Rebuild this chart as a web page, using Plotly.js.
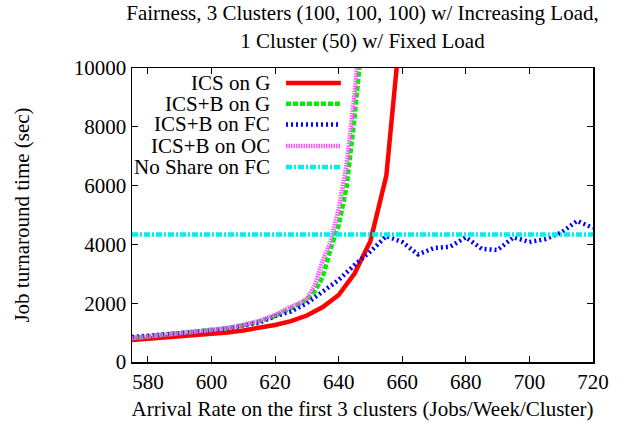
<!DOCTYPE html>
<html>
<head>
<meta charset="utf-8">
<script src="https://cdn.plot.ly/plotly-3.0.1.min.js"></script>
<style>html,body{margin:0;padding:0;background:#fff;}#chart{width:624px;height:427px;}</style>
</head>
<body>
<div id="chart"></div>
<script>
// ---- data ----
const icsGX = [575, 580, 585, 590, 595, 600, 605, 610, 615, 620, 625, 630, 635, 640, 645, 650, 655, 660];
const icsGY = [750, 790, 830, 870, 910, 955, 1005, 1075, 1160, 1260, 1390, 1580, 1870, 2280, 3010, 4120, 6340, 12000];

const icsbGX = [575, 580, 585, 590, 595, 600, 605, 610, 615, 620, 625, 627.5, 630, 632.5, 635, 637.5, 640, 642.5, 645, 647.5, 650];
const icsbGY = [820, 870, 920, 970, 1020, 1080, 1150, 1250, 1380, 1560, 1800, 1960, 2120, 2400, 2900, 3850, 4650, 5950, 8300, 10800, 14000];

const icsbFCX = [575, 580, 585, 590, 595, 600, 605, 610, 615, 620, 625, 630, 635, 640, 645, 650, 655, 660, 665, 670, 675, 680, 685, 690, 695, 700, 705, 710, 715, 720];
const icsbFCY = [850, 890, 930, 970, 1020, 1070, 1140, 1230, 1340, 1560, 1720, 2000, 2380, 2790, 3300, 3760, 4280, 4080, 3660, 3880, 3920, 4240, 3850, 3810, 4240, 4080, 4180, 4400, 4800, 4560];

const icsbOCX = [575, 580, 585, 590, 595, 600, 605, 610, 615, 620, 625, 627.5, 630, 632.5, 635, 637.5, 640, 642.5, 645, 647.5, 650];
const icsbOCY = [810, 860, 915, 970, 1030, 1090, 1160, 1260, 1400, 1600, 1880, 1990, 2150, 2600, 3450, 4100, 5200, 6700, 9100, 11800, 15000];

const noShareX = [575, 720];
const noShareY = [4340, 4340];

const seriesNames = ["ICS on G", "ICS+B on G", "ICS+B on FC", "ICS+B on OC", "No Share on FC"];
const xTicks = [580, 600, 620, 640, 660, 680, 700, 720];
const yTicks = [0, 2000, 4000, 6000, 8000, 10000];

// ---- styles ----
const styles = [
  {color: '#ff0000', width: 4.5, dash: 'solid'},
  {color: '#00ee00', width: 4.5, dash: '5px,2px'},
  {color: '#0000ff', width: 4.5, dash: '2px,3px'},
  {color: '#ff55ff', width: 4.5, dash: '1.5px,1px'},
  {color: '#00f0f0', width: 4.5, dash: '6px,2px,2px,2px'}
];

const xs = [icsGX, icsbGX, icsbFCX, icsbOCX, noShareX];
const ys = [icsGY, icsbGY, icsbFCY, icsbOCY, noShareY];

const FONT = 'Liberation Serif, Times New Roman, serif';
const traces = [];
for (let i = 0; i < xs.length; i++) {
  traces.push({
    x: xs[i], y: ys[i], type: 'scatter', mode: 'lines', name: seriesNames[i],
    line: {color: styles[i].color, width: styles[i].width, dash: styles[i].dash},
    showlegend: false, hoverinfo: 'skip'
  });
}

// legend keys on an overlay axis (0..1)
const legendRows = [0.949, 0.878, 0.808, 0.735, 0.663];
const annotations = [];
for (let i = 0; i < seriesNames.length; i++) {
  traces.push({
    x: [0.334, 0.453], y: [legendRows[i], legendRows[i]], xaxis: 'x2', yaxis: 'y2',
    type: 'scatter', mode: 'lines', showlegend: false, hoverinfo: 'skip',
    line: {color: styles[i].color, width: styles[i].width, dash: styles[i].dash}
  });
  annotations.push({
    text: seriesNames[i], xref: 'paper', yref: 'paper', x: 0.302, y: legendRows[i],
    xanchor: 'right', yanchor: 'middle', showarrow: false, height: 18, borderpad: 0,
    font: {family: FONT, size: 21, color: '#000'}
  });
}

const axisCommon = {
  showgrid: false, zeroline: false, showline: true, linecolor: '#000', linewidth: 1.5,
  mirror: 'allticks', ticks: 'inside', ticklen: 6, tickwidth: 1, tickcolor: '#000',
  tickfont: {family: FONT, size: 21, color: '#000'}
};

const layout = {
  width: 624, height: 427,
  margin: {l: 132, r: 31, t: 68, b: 65},
  paper_bgcolor: '#fff', plot_bgcolor: '#fff',
  title: {
    text: 'Fairness, 3 Clusters (100, 100, 100) w/ Increasing Load,<br>1 Cluster (50) w/ Fixed Load',
    x: 0.5, xref: 'paper', xanchor: 'center', y: 0.952, yref: 'container', yanchor: 'bottom',
    font: {family: FONT, size: 21, color: '#000'}
  },
  xaxis: Object.assign({}, axisCommon, {
    range: [575, 720], tickvals: xTicks, ticktext: xTicks.map(String),
    title: {text: 'Arrival Rate on the first 3 clusters (Jobs/Week/Cluster)', standoff: 8,
            font: {family: FONT, size: 21, color: '#000'}}
  }),
  yaxis: Object.assign({}, axisCommon, {
    range: [0, 10000], tickvals: yTicks, ticktext: yTicks.map(String),
    title: {text: 'Job turnaround time (sec)', standoff: 38,
            font: {family: FONT, size: 21, color: '#000'}}
  }),
  xaxis2: {overlaying: 'x', anchor: 'y2', range: [0, 1], visible: false, fixedrange: true},
  yaxis2: {overlaying: 'y', anchor: 'x2', range: [0, 1], visible: false, fixedrange: true},
  annotations: annotations,
  showlegend: false
};

Plotly.newPlot('chart', traces, layout, {displayModeBar: false, staticPlot: true});
</script>
</body>
</html>
